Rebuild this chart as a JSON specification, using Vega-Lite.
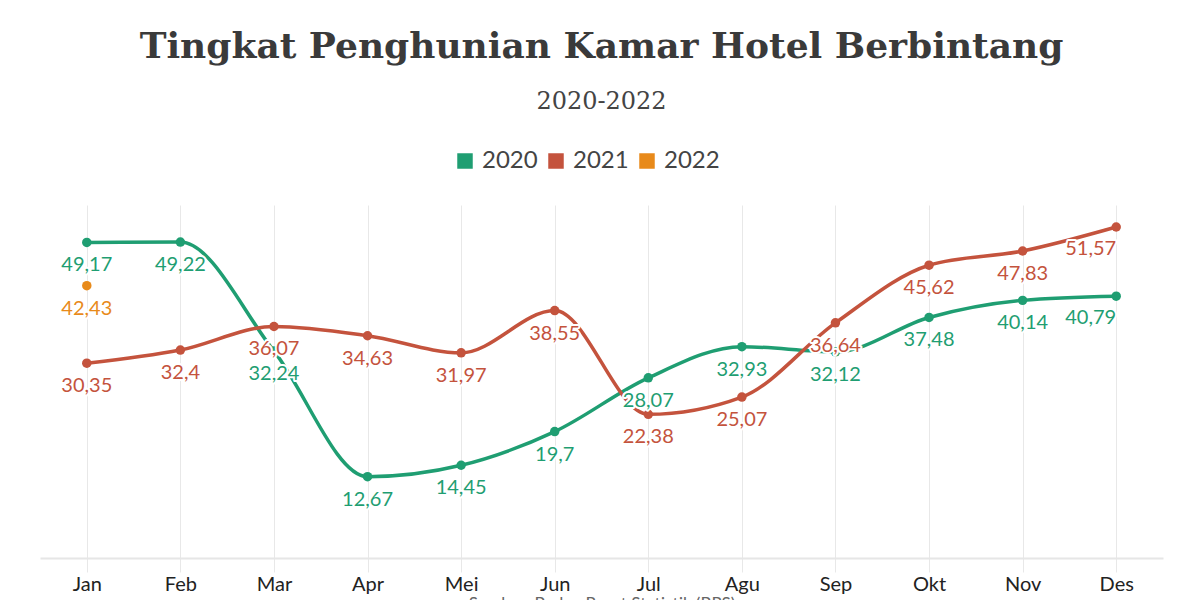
{
  "$schema": "https://vega.github.io/schema/vega-lite/v6.json",
  "width": 1123,
  "height": 353,
  "autosize": "none",
  "padding": {"left": 40, "top": 205, "right": 37, "bottom": 42},
  "background": "white",
  "title": {
    "text": "Tingkat Penghunian Kamar Hotel Berbintang",
    "subtitle": "2020-2022",
    "anchor": "middle",
    "frame": "group",
    "font": "DejaVu Serif",
    "fontSize": 36,
    "fontWeight": "bold",
    "color": "#3a3a3a",
    "subtitleFont": "DejaVu Serif",
    "subtitleFontSize": 24,
    "subtitleColor": "#444444",
    "subtitlePadding": 24,
    "offset": 34
  },
  "data": {
    "values": [
      {"month": "Jan", "year": "2020", "value": 49.17},
      {"month": "Feb", "year": "2020", "value": 49.22},
      {"month": "Mar", "year": "2020", "value": 32.24},
      {"month": "Apr", "year": "2020", "value": 12.67},
      {"month": "Mei", "year": "2020", "value": 14.45},
      {"month": "Jun", "year": "2020", "value": 19.7},
      {"month": "Jul", "year": "2020", "value": 28.07},
      {"month": "Agu", "year": "2020", "value": 32.93},
      {"month": "Sep", "year": "2020", "value": 32.12},
      {"month": "Okt", "year": "2020", "value": 37.48},
      {"month": "Nov", "year": "2020", "value": 40.14},
      {"month": "Des", "year": "2020", "value": 40.79},
      {"month": "Jan", "year": "2021", "value": 30.35},
      {"month": "Feb", "year": "2021", "value": 32.4},
      {"month": "Mar", "year": "2021", "value": 36.07},
      {"month": "Apr", "year": "2021", "value": 34.63},
      {"month": "Mei", "year": "2021", "value": 31.97},
      {"month": "Jun", "year": "2021", "value": 38.55},
      {"month": "Jul", "year": "2021", "value": 22.38},
      {"month": "Agu", "year": "2021", "value": 25.07},
      {"month": "Sep", "year": "2021", "value": 36.64},
      {"month": "Okt", "year": "2021", "value": 45.62},
      {"month": "Nov", "year": "2021", "value": 47.83},
      {"month": "Des", "year": "2021", "value": 51.57},
      {"month": "Jan", "year": "2022", "value": 42.43}
    ]
  },
  "encoding": {
    "x": {
      "field": "month",
      "type": "ordinal",
      "sort": ["Jan","Feb","Mar","Apr","Mei","Jun","Jul","Agu","Sep","Okt","Nov","Des"],
      "scale": {"type": "point", "padding": 0.5},
      "axis": {
        "title": "Sumber: Badan Pusat Statistik (BPS)",
        "titleFont": "Lato",
        "titleFontSize": 17,
        "titleFontWeight": "normal",
        "titleColor": "#666666",
        "titlePadding": 2,
        "labelAngle": 0,
        "labelFont": "Lato",
        "labelFontSize": 20,
        "labelColor": "#222222",
        "labelPadding": 2,
        "grid": true,
        "gridColor": "#e8e8e8",
        "gridWidth": 1,
        "domainColor": "#e6e6e6",
        "domainWidth": 2,
        "tickColor": "#e8e8e8",
        "tickSize": 14
      }
    },
    "y": {
      "field": "value",
      "type": "quantitative",
      "scale": {"domain": [0, 55], "nice": false, "zero": true},
      "axis": null
    },
    "color": {
      "field": "year",
      "type": "nominal",
      "scale": {"domain": ["2020", "2021", "2022"], "range": ["#1f9e72", "#c4533d", "#e88a1a"]},
      "legend": {
        "title": null,
        "orient": "none",
        "direction": "horizontal",
        "legendX": 413,
        "legendY": -56,
        "symbolType": "square",
        "symbolSize": 240,
        "symbolStrokeWidth": 0,
        "symbolOpacity": 1,
        "labelFont": "Lato",
        "labelFontSize": 24,
        "labelColor": "#444444",
        "labelOffset": 5,
        "columnPadding": 6,
        "padding": 0
      }
    }
  },
  "layer": [
    {
      "mark": {"type": "line", "interpolate": "monotone", "strokeWidth": 3.5}
    },
    {
      "mark": {"type": "point", "filled": true, "opacity": 1, "size": 90}
    },
    {
      "transform": [{"filter": "datum.month !== 'Des'"}],
      "mark": {"type": "text", "font": "Lato", "fontSize": 20, "dy": 23, "baseline": "middle", "align": "center", "stroke": "white", "strokeWidth": 4, "strokeJoin": "round"},
      "encoding": {"text": {"field": "value", "type": "quantitative", "format": ".4~g"}, "color": {"value": "white"}}
    },
    {
      "transform": [{"filter": "datum.month !== 'Des'"}],
      "mark": {"type": "text", "font": "Lato", "fontSize": 20, "dy": 23, "baseline": "middle", "align": "center"},
      "encoding": {"text": {"field": "value", "type": "quantitative", "format": ".4~g"}}
    },
    {
      "transform": [{"filter": "datum.month === 'Des'"}],
      "mark": {"type": "text", "font": "Lato", "fontSize": 20, "dy": 22, "dx": 0, "baseline": "middle", "align": "right", "stroke": "white", "strokeWidth": 4, "strokeJoin": "round"},
      "encoding": {"text": {"field": "value", "type": "quantitative", "format": ".4~g"}, "color": {"value": "white"}}
    },
    {
      "transform": [{"filter": "datum.month === 'Des'"}],
      "mark": {"type": "text", "font": "Lato", "fontSize": 20, "dy": 22, "dx": 0, "baseline": "middle", "align": "right"},
      "encoding": {"text": {"field": "value", "type": "quantitative", "format": ".4~g"}}
    }
  ],
  "config": {
    "view": {"stroke": null},
    "locale": {"number": {"decimal": ",", "thousands": ".", "grouping": [3], "currency": ["Rp", ""]}}
  }
}
